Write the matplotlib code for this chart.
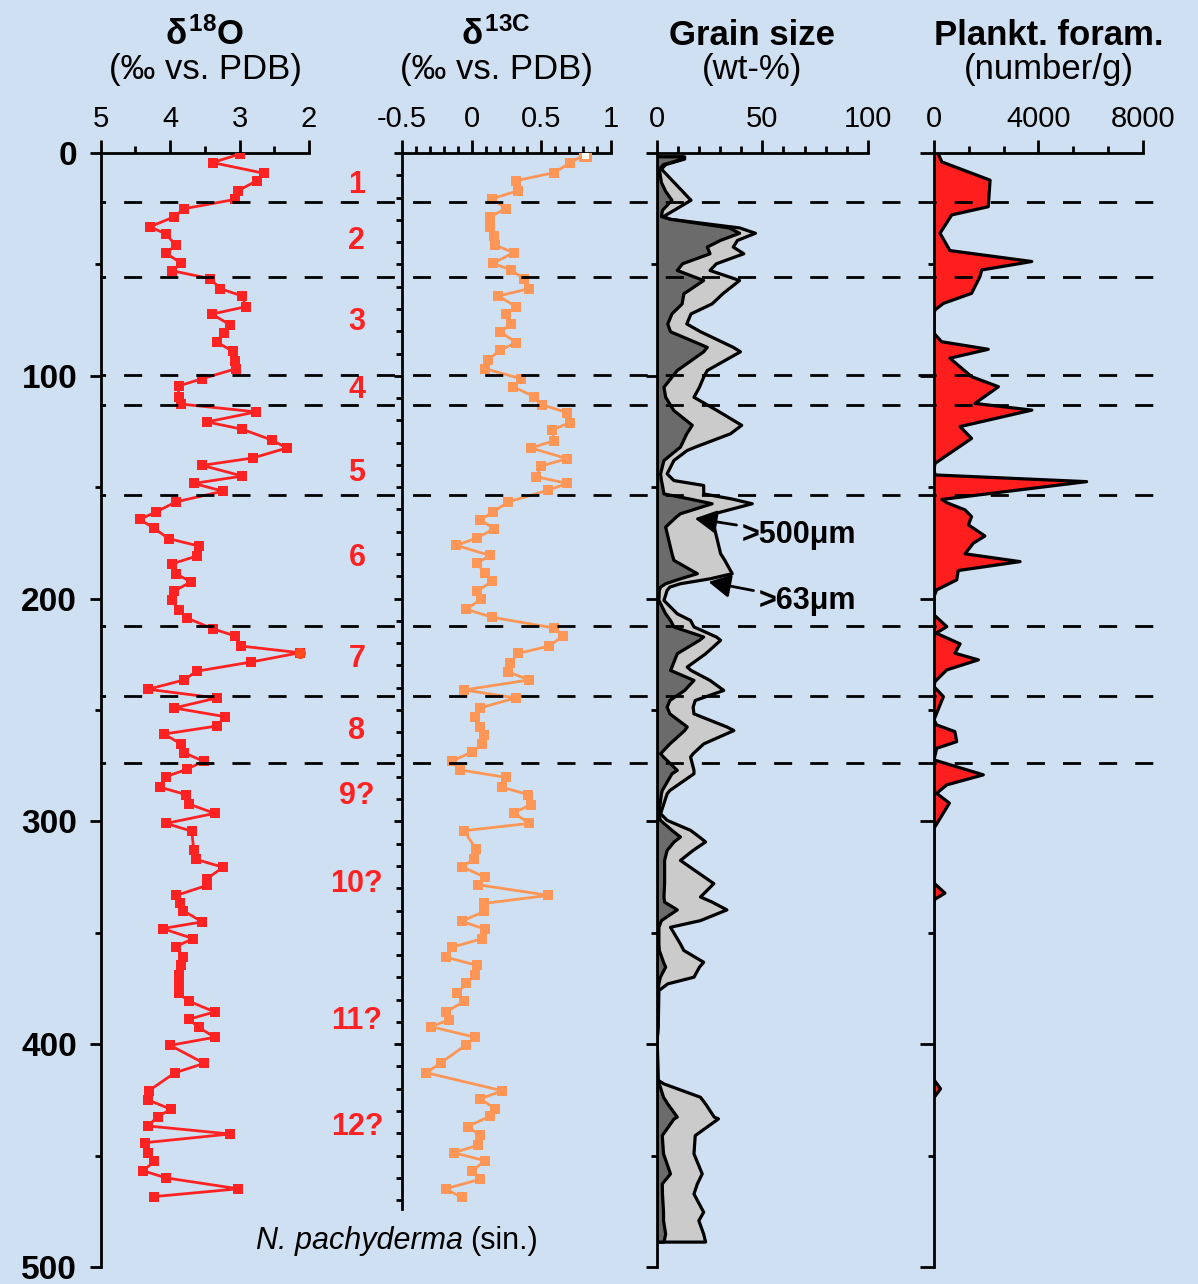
import numpy as np
import matplotlib
matplotlib.use("Agg")
import matplotlib.pyplot as plt
from matplotlib.ticker import MultipleLocator, FixedLocator

# ---------------------------------------------------------------- data
# Oxygen isotopes, N. pachyderma (sin.)
d18o_depth = [0.5, 4.3, 9.1, 12.4, 16.9, 20.8, 25.0, 28.6, 33.1, 36.4, 41.4, 45.0,
              49.5, 52.8, 56.4, 60.9, 64.2, 69.0, 72.3, 77.1, 80.7, 84.8, 89.0, 93.2,
              96.8, 101.3, 104.6, 109.4, 112.7, 116.2, 120.7, 124.0, 128.8, 132.4,
              136.9, 140.2, 145.0, 148.3, 151.8, 156.6, 161.1, 164.4, 168.3, 173.1,
              176.4, 180.9, 184.5, 189.0, 192.5, 196.7, 200.6, 205.1, 208.7, 213.5,
              216.8, 221.3, 224.3, 228.5, 232.6, 236.5, 240.7, 244.6, 249.1, 253.0,
              257.2, 260.8, 265.3, 269.2, 273.0, 276.6, 279.9, 284.7, 288.0, 292.2,
              296.4, 300.9, 304.4, 312.8, 317.0, 320.6, 325.7, 328.7, 333.2, 336.8,
              340.1, 345.1, 348.1, 352.6, 356.2, 360.7, 364.6, 368.8, 373.0, 377.2,
              380.7, 385.5, 388.8, 392.4, 396.9, 400.5, 408.6, 412.8, 420.9, 425.0,
              429.2, 432.5, 436.7, 440.3, 444.2, 448.7, 452.6, 456.8, 460.0, 464.9,
              468.4]
d18o = [3.00, 3.39, 2.65, 2.75, 3.02, 3.06, 3.80, 3.94, 4.29, 4.06, 3.92, 4.06,
        3.84, 3.98, 3.42, 3.28, 2.96, 2.91, 3.40, 3.14, 3.23, 3.33, 3.10, 3.06,
        3.05, 3.54, 3.88, 3.88, 3.84, 2.76, 3.47, 2.96, 2.54, 2.32,
        2.81, 3.54, 2.96, 3.66, 3.24, 3.92, 4.20, 4.44, 4.24, 4.02,
        3.59, 3.62, 3.98, 3.91, 3.70, 3.95, 3.98, 3.88, 3.76, 3.39,
        3.06, 2.98, 2.13, 2.84, 3.62, 3.80, 4.32, 3.33, 3.94, 3.21,
        3.33, 4.09, 3.84, 3.80, 3.52, 3.76, 4.06, 4.14, 3.77, 3.73,
        3.36, 4.06, 3.69, 3.66, 3.63, 3.24, 3.47, 3.47, 3.91, 3.86,
        3.81, 3.54, 4.11, 3.67, 3.92, 3.81, 3.84, 3.88, 3.87, 3.88,
        3.73, 3.36, 3.73, 3.59, 3.36, 4.00, 3.51, 3.93, 4.31, 4.32,
        3.99, 4.18, 4.32, 3.14, 4.36, 4.32, 4.23, 4.39, 4.06, 3.02,
        4.23]

# Carbon isotopes, N. pachyderma (sin.)
d13c_depth = [0.7, 4.3, 8.8, 12.4, 16.9, 20.5, 25.0, 28.6, 33.4, 37.3, 41.4, 44.7,
              49.5, 52.5, 56.4, 60.9, 64.2, 69.0, 72.3, 76.7, 80.3, 85.1, 88.4, 92.9,
              96.8, 101.3, 104.9, 109.4, 113.0, 116.5, 121.0, 124.3, 129.1, 132.4,
              137.2, 140.5, 145.3, 148.3, 151.3, 156.6, 161.1, 164.7, 168.6, 172.8,
              176.1, 180.6, 184.2, 188.4, 192.2, 196.7, 200.3, 204.8, 208.4, 213.2,
              216.8, 221.3, 224.6, 228.8, 232.9, 236.5, 241.0, 244.6, 249.1, 253.0,
              257.5, 261.1, 265.3, 268.9, 273.0, 276.9, 280.2, 284.7, 288.0, 292.5,
              296.1, 300.9, 304.2, 312.5, 317.0, 320.3, 325.1, 328.4, 333.2, 336.8,
              340.4, 344.8, 348.4, 352.6, 356.5, 361.0, 364.6, 368.8, 372.7, 377.2,
              380.7, 385.5, 389.1, 392.1, 396.9, 400.2, 408.3, 412.8, 420.9, 424.5,
              429.0, 432.2, 437.0, 440.9, 445.4, 448.7, 452.3, 456.8, 460.6, 464.9,
              468.8]
d13c = [0.814, 0.708, 0.593, 0.321, 0.335, 0.148, 0.244, 0.134, 0.134, 0.158, 0.168, 0.302,
        0.153, 0.282, 0.374, 0.412, 0.191, 0.321, 0.244, 0.282, 0.206, 0.321, 0.206, 0.115,
        0.096, 0.354, 0.297, 0.450, 0.503, 0.685, 0.704, 0.579, 0.593, 0.426,
        0.685, 0.498, 0.464, 0.685, 0.551, 0.263, 0.153, 0.062, 0.163, 0.038,
        -0.110, 0.130, 0.038, 0.096, 0.148, 0.038, 0.067, -0.038, 0.148, 0.593,
        0.656, 0.555, 0.335, 0.278, 0.263, 0.412, -0.053, 0.316, 0.058, 0.024,
        0.062, 0.091, 0.077, 0.000, -0.143, -0.086, 0.244, 0.220, 0.407, 0.426,
        0.302, 0.412, -0.057, 0.034, 0.019, -0.070, 0.096, 0.043, 0.551, 0.091,
        0.091, -0.072, 0.096, 0.077, -0.143, -0.182, 0.038, 0.024, -0.038, -0.105,
        -0.053, -0.182, -0.163, -0.292, 0.024, -0.038, -0.220, -0.325, 0.220, 0.062,
        0.168, 0.134, -0.029, 0.062, 0.043, -0.129, 0.096, 0.005, 0.062, -0.187,
        -0.072]

# Grain size (wt-%): coarse fraction >500 um and total >63 um
grain_depth = [1.5, 2.5, 5, 7, 13, 17, 21, 25.5, 28.3, 29.5, 33.4, 35.8, 39, 42, 45,
               49.5, 52.5, 57, 63, 67.5, 72, 76.5, 80, 87, 89, 97.4, 100.4, 104.9,
               109.4, 115.4, 122, 125.8, 131.8, 133.3, 137.8, 143.8, 146.8, 149,
               152.8, 155, 157.2, 161.7, 163.2, 167.7, 179.6, 182.6, 188.6, 190.9,
               193.1, 194.6, 196.1, 200.6, 206.6, 209.6, 212.5, 217, 218.5, 224.5,
               230.5, 232, 236.5, 241, 245.5, 248.5, 251.5, 257.4, 259, 265, 269.4,
               270.9, 276.9, 278.4, 285.9, 287.4, 296.3, 299.3, 303.8, 306.8, 309,
               312.8, 317.3, 327.7, 333.7, 336, 339.5, 344.3, 347.3, 354.8, 357.7,
               363, 365.2, 369.7, 372.7, 375.7, 392, 398, 416, 417.6, 423.6, 426.6,
               432.5, 433.3, 440.8, 449, 458, 462.5, 467, 475.2, 479, 485, 488.6]
grain_500 = [12, 12, 3, 1, 2, 4, 7, 2.5, 2, 6, 34, 39, 30, 23.7, 25,
             12, 9.5, 22, 12.6, 11.8, 7, 5, 6.3, 23.7, 22, 9.5, 7, 3.2,
             4, 7.9, 16.6, 14, 11, 9, 3.2, 1.6, 2, 2.5,
             3.2, 15, 26, 11, 9, 4, 7, 7.9, 19, 11,
             4, 1.6, 1, 0.8, 4, 6.3, 7.9, 22, 20, 9.5,
             7, 6.3, 17.4, 13, 6, 4.7, 6, 14.2, 13, 6, 1.6,
             3, 9.5, 7, 2.4, 2, 0.8, 1.5, 7, 11, 8,
             4.7, 3.5, 3.5, 3.2, 3.5, 9.5, 2, 0.8, 0.8, 1,
             3, 4, 1.5, 0.8, 0.4, 0.3, 0, 0.3, 1, 3, 5,
             9.5, 8, 2.4, 3, 6.3, 2.4, 2.5, 3, 3, 4, 3.2]
grain_63 = [13, 13, 4, 2, 8, 12, 16, 8, 3, 6, 39, 46.5, 38, 36, 41,
            28, 25, 39, 31, 26, 16, 14, 20.5, 36, 39.4, 23.7, 22, 20,
            17.4, 28.4, 40, 34.7, 18, 14.2, 7.9, 4.7, 7.9, 22,
            22, 35, 45, 27, 25, 27, 30, 32, 35.5, 25,
            11, 6, 4.7, 3.2, 9.5, 15.8, 17.4, 28, 30, 23,
            14.2, 16, 25, 31.5, 18, 17, 17.4, 33, 36.3, 22, 17,
            15.8, 17.4, 17.4, 6, 4.7, 1.6, 4.7, 15.8, 20, 22.9,
            17, 11, 26.8, 20.5, 26, 33, 20.5, 6.3, 11, 12.6,
            22, 20, 17.4, 5, 0.8, 0.5, 0, 0.5, 3.2, 20.5, 22.9,
            27, 29, 18, 17.4, 21.3, 19, 17.4, 22, 19.7, 22, 22.9]

# Planktic foraminifera (number/g)
foram_depth = [0.5, 4, 12.2, 24.1, 27.8, 36, 43.8, 48.7, 52.5, 55.5, 63, 67.5, 70.4,
               72, 80.9, 84.7, 88.1, 92.1, 100.4, 104.9, 112.4, 115.4, 122.8, 128.1,
               139.3, 142, 144.5, 147.5, 155.5, 157, 160.2, 163.2, 166.9, 171.9,
               175.1, 179.9, 183.4, 187.4, 191.6, 196.1, 199.1, 207.3, 212.6, 215.5,
               220.3, 224.5, 227.5, 232, 237.2, 239.5, 244, 254.4, 256.7, 259.7,
               264.2, 267.2, 272.4, 279.1, 283.6, 287.4, 291.8, 303.1, 327.7, 332.2,
               335.2, 416, 420, 424]
foram = [170, 300, 2150, 2080, 680, 230, 610, 3750, 1830, 1760, 1440, 360, 40,
         0, 0, 290, 2080, 610, 1440, 2470, 1570, 3750, 1000, 1440,
         40, 0, 40, 5850, 300, 500, 1190, 1440, 1320, 1950,
         1510, 1190, 3300, 930, 870, 100, 0, 0, 490, 80,
         1000, 800, 1700, 490, 40, 0, 360, 0, 100, 800,
         870, 100, 0, 1890, 490, 100, 590, 0, 0, 420,
         0, 0, 250, 0]

# Stage boundaries and labels
boundaries = [22, 55.5, 99.5, 113.3, 153.6, 212.3, 243.7, 273.6]
stage_names = ["1", "2", "3", "4", "5", "6", "7", "8", "9?", "10?", "11?", "12?"]
stage_depths = [14.4, 39.5, 76, 106.5, 143.5, 182, 227, 259.5, 288.5, 328, 389.5, 437]

# Axis ticks
d18o_ticks = [5, 4, 3, 2]
d13c_ticks = [-0.5, 0, 0.5, 1]
d13c_ticklabels = ["-0.5", "0", "0.5", "1"]
grain_ticks = [0, 50, 100]
foram_ticks = [0, 4000, 8000]
depth_ticks = [0, 100, 200, 300, 400, 500]

# ---------------------------------------------------------------- style
BG = "#cfe0f2"
RED = "#ff2222"
ORANGE = "#fd9656"
DARK = "#6b6b6b"
LIGHT = "#cbcbcb"
FORAM_RED = "#ff1e1e"

plt.rcParams["font.family"] = ["Liberation Sans", "DejaVu Sans"]
plt.rcParams["lines.scale_dashes"] = False
plt.rcParams["mathtext.fontset"] = "custom"
plt.rcParams["mathtext.rm"] = "Liberation Sans:bold"
plt.rcParams["mathtext.it"] = "Liberation Sans:bold"
plt.rcParams["mathtext.bf"] = "Liberation Sans:bold"

W, H = 1198, 1284
fig = plt.figure(figsize=(W / 100, H / 100), dpi=100, facecolor=BG)


def fx(px):
    return px / W


def fy(py):
    return 1 - py / H


TOP, BOT = 153, 1267
LW = 2.0


def panel(left_px, right_px, xlim):
    ax = fig.add_axes([fx(left_px), fy(BOT), (right_px - left_px) / W, (BOT - TOP) / H])
    ax.set_facecolor("none")
    ax.set_xlim(*xlim)
    ax.set_ylim(500, 0)
    for s in ("right", "bottom"):
        ax.spines[s].set_visible(False)
    for s in ("left", "top"):
        ax.spines[s].set_linewidth(LW)
    ax.xaxis.tick_top()
    ax.tick_params(axis="x", which="major", length=9.5, width=LW, labelsize=21, pad=5)
    ax.tick_params(axis="x", which="minor", length=5, width=LW)
    ax.tick_params(axis="y", which="major", length=8, width=LW, labelleft=False)
    ax.tick_params(axis="y", which="minor", length=4.5, width=LW)
    ax.yaxis.set_major_locator(FixedLocator(depth_ticks))
    return ax


# --- d18O
ax1 = panel(100.8, 309, (5, 2))
ax1.set_xticks(d18o_ticks, [str(t) for t in d18o_ticks])
ax1.xaxis.set_minor_locator(MultipleLocator(0.5))
ax1.yaxis.set_minor_locator(MultipleLocator(50))
ax1.tick_params(axis="y", which="major", labelleft=True, labelsize=24, pad=9)
for lab in ax1.get_yticklabels():
    lab.set_fontweight("bold")
ax1.plot(d18o, d18o_depth, color=RED, lw=2.0, marker="s", ms=6.5, mew=0, zorder=3)
i_peak = int(np.argmin(d18o))
ax1.plot([d18o[i_peak]], [d18o_depth[i_peak]], "o", color="#ff4a1e", ms=8, mew=0, zorder=4)

# --- d13C
ax2 = panel(402, 611, (-0.5, 1))
ax2.set_xticks(d13c_ticks, d13c_ticklabels)
ax2.xaxis.set_minor_locator(MultipleLocator(0.1))
ax2.spines["left"].set_bounds(0, 474)
ax2.yaxis.set_major_locator(FixedLocator([0, 100, 200, 300, 400]))
ax2.yaxis.set_minor_locator(FixedLocator(np.arange(10, 471, 10)))
ax2.tick_params(axis="y", which="major", length=6)
ax2.plot(d13c, d13c_depth, color=ORANGE, lw=2.0, marker="s", ms=6.5, mew=0, zorder=3)
ax2.plot([d13c[0]], [d13c_depth[0]], "s", ms=7, mfc="white", mec=ORANGE, mew=2.2, zorder=4)

# --- grain size
ax3 = panel(656.7, 868, (0, 100))
ax3.set_xticks(grain_ticks, [str(t) for t in grain_ticks])
ax3.xaxis.set_minor_locator(MultipleLocator(10))
ax3.yaxis.set_minor_locator(MultipleLocator(50))
ax3.fill_betweenx(grain_depth, 0, grain_63, facecolor=LIGHT, edgecolor="black",
                  linewidth=2.3, zorder=2)
ax3.fill_betweenx(grain_depth, 0, grain_500, facecolor=DARK, edgecolor="black",
                  linewidth=2.3, zorder=2.5)

arrow = dict(arrowstyle="-|>,head_length=0.6,head_width=0.32", color="black",
             lw=2, shrinkA=2, shrinkB=0)
ax3.annotate(">500μm", xy=(18, 164), xycoords="data",
             xytext=(fx(742), fy(535)), textcoords="figure fraction",
             ha="left", va="center", fontsize=22, fontweight="bold", arrowprops=arrow)
ax3.annotate(">63μm", xy=(24.5, 192.5), xycoords="data",
             xytext=(fx(759), fy(601)), textcoords="figure fraction",
             ha="left", va="center", fontsize=22, fontweight="bold", arrowprops=arrow)

# --- planktic foraminifera
ax4 = panel(934, 1142.7, (0, 8000))
ax4.set_xticks(foram_ticks, [str(t) for t in foram_ticks])
ax4.xaxis.set_minor_locator(FixedLocator(np.linspace(0, 8000, 7)))
ax4.yaxis.set_minor_locator(MultipleLocator(50))
ax4.tick_params(axis="y", which="major", length=10)
ax4.fill_betweenx(foram_depth, 0, foram, facecolor=FORAM_RED, edgecolor="none", zorder=2)
ax4.plot(foram, foram_depth, color="black", lw=2.3, zorder=3)

# --- stage boundaries across all panels
ov = fig.add_axes([0, fy(BOT), 1, (BOT - TOP) / H])
ov.set_xlim(0, W)
ov.set_ylim(500, 0)
ov.axis("off")
ov.patch.set_alpha(0)
ov.hlines(boundaries, 100, 1170, colors="black", lw=2.0,
          linestyles=[(9, (13, 13))], zorder=5)

# --- stage labels
for name, d in zip(stage_names, stage_depths):
    ax1.text(1.23, d, name, transform=ax1.get_yaxis_transform(), ha="center",
             va="center", fontsize=22, fontweight="bold", color=RED, clip_on=False)

# --- titles
titles = [
    (205, r"$\delta^{18}$O", "(‰ vs. PDB)"),
    (496, r"$\delta^{13C}$", "(‰ vs. PDB)"),
    (752, "Grain size", "(wt-%)"),
    (1049, "Plankt. foram.", "(number/g)"),
]
for xc, t1, t2 in titles:
    fig.text(fx(xc), fy(45), t1, ha="center", va="baseline", fontsize=25,
             fontweight="bold")
    fig.text(fx(xc), fy(79), t2, ha="center", va="baseline", fontsize=25)

fig.text(fx(463), fy(1249), "N. pachyderma", ha="right", va="baseline",
         fontsize=22, fontstyle="italic")
fig.text(fx(470), fy(1249), "(sin.)", ha="left", va="baseline", fontsize=22)

fig.savefig("out.png", dpi=100, facecolor=BG)
